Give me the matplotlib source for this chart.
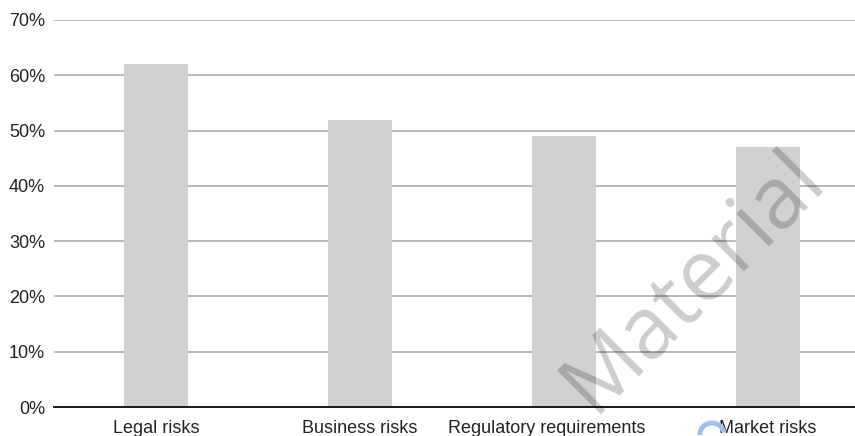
import matplotlib
matplotlib.use("Agg")
import matplotlib.pyplot as plt
import matplotlib.transforms as mtransforms
from matplotlib.patches import Arc

categories = ["Legal risks", "Business risks", "Regulatory requirements", "Market risks"]
values = [62, 52, 49, 47]
y_ticks = [0, 10, 20, 30, 40, 50, 60, 70]
y_tick_labels = ["0%", "10%", "20%", "30%", "40%", "50%", "60%", "70%"]

plt.rcParams["font.family"] = ["Liberation Sans", "DejaVu Sans"]

W, H = 855, 436
fig = plt.figure(figsize=(W / 100, H / 100), dpi=100)
fig.patch.set_facecolor("white")

# axes extends slightly past the right edge so category slots are 204 px wide
ax = fig.add_axes([54 / W, 29 / H, 816 / W, 387 / H])
ax.set_facecolor("white")

x = list(range(len(categories)))
ax.bar(x, values, width=0.314, color="#d0d1d3", zorder=2)

ax.set_xlim(-0.5, 3.5)
ax.set_ylim(0, 70)

# horizontal gridlines
for t in y_ticks[1:]:
    ax.axhline(t, color="#a6a6a6", linewidth=1.1, zorder=1)
ax.axhline(0, color="#1a1a1a", linewidth=1.4, zorder=3, clip_on=False)

for side in ["top", "right", "left", "bottom"]:
    ax.spines[side].set_visible(False)

ax.set_yticks(y_ticks)
ax.set_yticklabels(y_tick_labels, fontsize=13, color="#222222")
ax.tick_params(axis="y", length=0, pad=6.5)

ax.set_xticks(x)
ax.set_xticklabels(categories, fontsize=13, color="#222222")
ax.tick_params(axis="x", length=0, pad=9)

# long label sits a little left of its bar
lbl = ax.get_xticklabels()[2]
lbl.set_transform(lbl.get_transform() + mtransforms.ScaledTranslation(-17 / 100, 0, fig.dpi_scale_trans))

# diagonal watermark
fig.text(694 / W, 1 - 282 / H, "Material", fontsize=62, color="black", alpha=0.2,
         rotation=45, rotation_mode="anchor", ha="center", va="center",
         family=["Open Sans", "DejaVu Sans"], zorder=10)

# small blue emblem at the bottom edge
arc = Arc((712 / W, 1 - 434 / H), 24 / W, 22 / H, theta1=15, theta2=190,
          transform=fig.transFigure, color="#9cc3f0", linewidth=3.5, zorder=10)
fig.add_artist(arc)

fig.savefig("out.png", dpi=100)
